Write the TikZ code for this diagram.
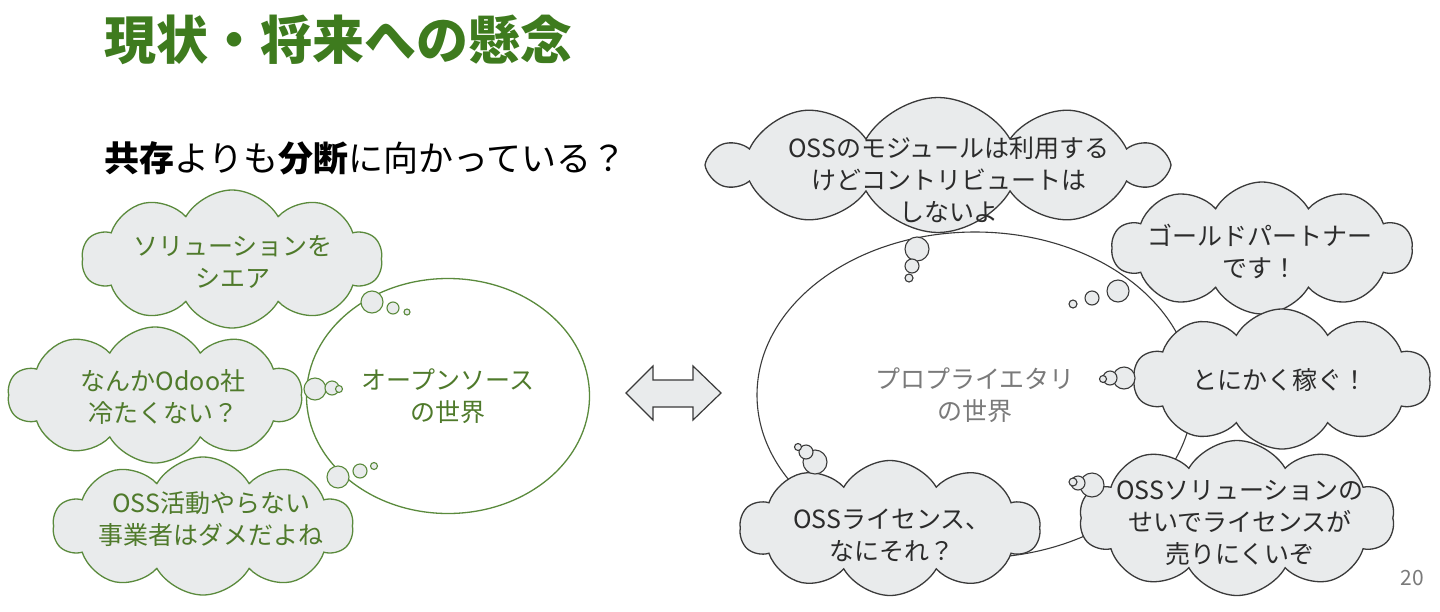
\documentclass[tikz,border=0pt]{standalone}
\usepackage{fontspec}
\setmainfont{Noto Sans CJK JP}
\usetikzlibrary{shapes.symbols,shapes.geometric,positioning}
\definecolor{titlegreen}{HTML}{3E7B1E}
\definecolor{ossgreen}{HTML}{5A8A3C}
\definecolor{osstext}{HTML}{4F7A2B}
\definecolor{cloudfill}{HTML}{E9EBEC}
\definecolor{propline}{HTML}{3A3A3A}
\definecolor{proptext}{HTML}{7A7A7A}
\definecolor{saygray}{HTML}{2B2B2B}
\definecolor{pagegray}{HTML}{7A7A7A}

\tikzset{
  thought/.style={cloud, cloud puffs=10, cloud puff arc=120, cloud ignores aspect,
    fill=cloudfill, line width=1.3pt, inner sep=0pt},
  ossthought/.style={thought, draw=ossgreen},
  propthought/.style={thought, draw=propline},
  bubble/.style={circle, fill=cloudfill, line width=1.1pt, inner sep=0pt},
  saytext/.style={font=\fontsize{25}{32}\selectfont, align=center, inner sep=0pt},
  world/.style={ellipse, line width=1.3pt, inner sep=0pt, font=\fontsize{25}{32}\selectfont, align=center},
}

\begin{document}
\begin{tikzpicture}[x=1pt, y=-1pt]
  \useasboundingbox[fill=white] (0,0) rectangle (1440,611);

  % headings
  \node[anchor=west, inner sep=0pt, font=\fontsize{52}{52}\selectfont\bfseries, text=titlegreen] (title) at (104,40) {現状・将来への懸念};
  \node[anchor=west, inner sep=0pt, font=\fontsize{35}{35}\selectfont, text=black] (subtitle) at (104,158) {\textbf{共存}よりも\textbf{分断}に向かっている？};

  % the two worlds
  \node[world, draw=ossgreen, text=osstext, minimum width=283, minimum height=235] (oss) at (448,396) {オープンソース\\の世界};
  \node[world, draw=propline, line width=1.1pt, text=proptext, minimum width=436, minimum height=326] (prop) at (975,395) {プロプライエタリ\\の世界};

  % double arrow between them
  \draw[fill=cloudfill, draw=propline, line width=1.2pt, line join=miter]
    (626,393) -- (653,366) -- (653,380) -- (693,380) -- (693,366) -- (721,393)
    -- (693,420) -- (693,407) -- (653,407) -- (653,420) -- cycle;

  % open source voices
  \node[ossthought, minimum width=300, minimum height=138] (share) at (232,259) {};
  \node[saytext, text=osstext] (sharetxt) at (233,262) {ソリューションを\\シエア};
  \node[ossthought, minimum width=294, minimum height=136] (cold) at (155,395) {};
  \node[saytext, text=osstext] (coldtxt) at (163,397) {なんかOdoo社\\冷たくない？};
  \node[ossthought, minimum width=300, minimum height=138] (blame) at (203,526) {};
  \node[saytext, text=osstext] (blametxt) at (211,519) {OSS活動やらない\\事業者はダメだよね};

  % proprietary voices
  \node[propthought, minimum width=453, minimum height=135] (module) at (938,165) {};
  \node[saytext, text=saygray] (moduletxt) at (949,180) {OSSのモジュールは利用する\\けどコントリビュートは\\しないよ};
  \node[propthought, minimum width=300, minimum height=132] (gold) at (1262,248) {};
  \node[saytext, text=saygray] (goldtxt) at (1260,251) {ゴールドパートナー\\です！};
  \node[propthought, minimum width=297, minimum height=140] (earn) at (1282,379) {};
  \node[saytext, text=saygray] (earntxt) at (1280,380) {とにかく稼ぐ！};
  \node[propthought, minimum width=300, minimum height=135] (license) at (890,528) {};
  \node[saytext, text=saygray] (licensetxt) at (892,535) {OSSライセンス、\\なにそれ？};
  \node[propthought, minimum width=315, minimum height=155] (sell) at (1237,518) {};
  \node[saytext, text=saygray] (selltxt) at (1240,523) {OSSソリューションの\\せいでライセンスが\\売りにくいぞ};

  % thought bubbles
  \foreach \bx/\by/\br [count=\i] in {372/302/11, 393/308/6, 407/312/3,
      315/389/11, 332/388/7, 339/389/3.5, 338/477/11, 360/471/7, 374/466/3.5}
    \node[bubble, draw=ossgreen, minimum size=2*\br] (ossbub\i) at (\bx,\by) {};
  \foreach \bx/\by/\br [count=\i] in {917/249/12, 912/266/7, 909/278/4,
      1118/291/11, 1092/298/7, 1073/304/4, 1124/378/11, 1110/378/7, 1103/379/3.5,
      815/462/12, 806/452/7, 798/447/3.5, 1092/485/12, 1078/483/7, 1073/482/4}
    \node[bubble, draw=propline, minimum size=2*\br] (propbub\i) at (\bx,\by) {};

  \node[font=\fontsize{21}{21}\selectfont, text=pagegray] (page) at (1412,578) {20};
\end{tikzpicture}
\end{document}
